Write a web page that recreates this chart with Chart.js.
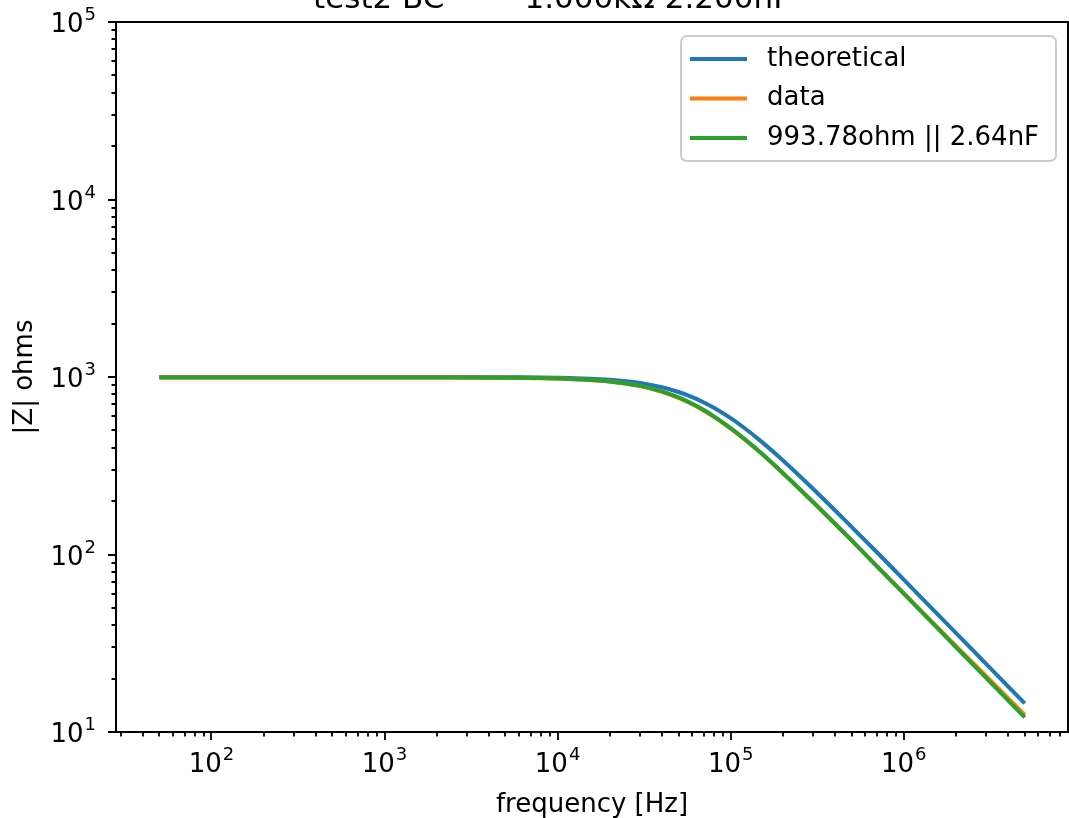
<!DOCTYPE html>
<html>
<head>
<meta charset="utf-8">
<script src="https://cdn.jsdelivr.net/npm/chart.js@4.4.0/dist/chart.umd.min.js"></script>
<style>
  html, body { margin: 0; padding: 0; background: #fff; }
  canvas { display: block; }
</style>
</head>
<body>
<canvas id="bodeChart" width="1069" height="818"></canvas>
<script>
// frequency sweep [Hz] and |Z| [ohm]
const freqs = [50, 100, 200, 500, 1e3, 2e3, 5e3, 1e4, 2e4, 3e4, 4e4, 5e4, 6e4, 7e4, 8e4,
               1e5, 1.2e5, 1.5e5, 2e5, 3e5, 5e5, 7e5, 1e6, 2e6, 3e6, 5e6];
const theoretical = [1000, 1000, 1000, 1000, 1000, 1000, 998, 991, 964, 924, 875, 823, 770, 719, 671,
                     586, 516, 434, 340, 234, 143, 103, 72.1, 36.2, 24.1, 14.5];
const measured = [995, 995, 994, 994, 994, 993, 989, 980, 942, 888, 826, 762, 702, 646, 596,
                  512, 446, 372, 288, 197, 120, 86, 60.5, 30.6, 20.6, 12.5];
const fitted = [994, 994, 994, 994, 994, 993, 990, 981, 944, 891, 830, 767, 707, 651, 600,
                515, 448, 373, 288, 197, 120, 85.8, 60.2, 30.1, 20.1, 12.1];

const seriesLabels = ['theoretical', 'data', '993.78ohm || 2.64nF'];
const seriesColors = ['#1f77b4', '#ff7f0e', '#2ca02c'];
const titleLeft = 'test2 BC';
const titleRight = '1.000k\u03A9 2.200nF';

const FONT = 'DejaVu Sans';
Chart.defaults.font.family = FONT;
Chart.defaults.font.size = 26;
Chart.defaults.color = '#000';

function logTicks(scale) {
  const out = [];
  const lo = Math.floor(Math.log10(scale.min));
  const hi = Math.ceil(Math.log10(scale.max));
  for (let e = lo; e <= hi; e++) {
    for (let m = 1; m < 10; m++) {
      const v = m * Math.pow(10, e);
      if (v >= scale.min * 0.9999 && v <= scale.max * 1.0001) out.push({ value: v, major: m === 1 });
    }
  }
  scale.ticks = out;
}

// "10" with a raised exponent, like matplotlib's mathtext
function drawPow(ctx, value, x, y, align) {
  const e = String(Math.round(Math.log10(value)));
  ctx.font = '26px ' + FONT;
  const w1 = ctx.measureText('10').width;
  ctx.font = '18px ' + FONT;
  const w2 = ctx.measureText(e).width;
  const total = w1 + 1 + w2;
  const start = align === 'right' ? x - total : x - total / 2;
  ctx.textAlign = 'left';
  ctx.textBaseline = 'alphabetic';
  ctx.font = '26px ' + FONT;
  ctx.fillText('10', start, y);
  ctx.font = '18px ' + FONT;
  ctx.fillText(e, start + w1 + 1, y - 12);
}

// box, ticks, tick labels, title and legend in matplotlib style
const mplDecor = {
  id: 'mplDecor',
  afterDatasetsDraw(chart) {
    const { ctx, chartArea: a } = chart;
    const xs = chart.scales.x, ys = chart.scales.y;
    ctx.save();
    ctx.strokeStyle = '#000';
    ctx.lineWidth = 2;
    ctx.strokeRect(a.left, a.top, a.right - a.left, a.bottom - a.top);

    ctx.beginPath();
    xs.ticks.forEach(t => {
      const px = Math.round(xs.getPixelForValue(t.value));
      const len = t.major ? 8 : 4.5;
      ctx.moveTo(px, a.bottom);
      ctx.lineTo(px, a.bottom + len);
    });
    ys.ticks.forEach(t => {
      const py = Math.round(ys.getPixelForValue(t.value));
      const len = t.major ? 8 : 4.5;
      ctx.moveTo(a.left, py);
      ctx.lineTo(a.left - len, py);
    });
    ctx.lineWidth = 1.8;
    ctx.stroke();

    ctx.fillStyle = '#000';
    xs.ticks.filter(t => t.major).forEach(t => {
      drawPow(ctx, t.value, xs.getPixelForValue(t.value), a.bottom + 40, 'center');
    });
    ys.ticks.filter(t => t.major).forEach(t => {
      drawPow(ctx, t.value, a.left - 20, ys.getPixelForValue(t.value) + 10, 'right');
    });

    // title, cut at the top edge as in the original
    ctx.font = '31px ' + FONT;
    ctx.textBaseline = 'alphabetic';
    const cx = (a.left + a.right) / 2;
    ctx.textAlign = 'left';
    ctx.fillText(titleLeft, cx - 279, 8);
    ctx.textAlign = 'right';
    ctx.fillText(titleRight, cx + 199, 8);

    // legend
    const lx = a.right - 387, ly = a.top + 14, lw = 375, lh = 125;
    ctx.beginPath();
    ctx.roundRect(lx, ly, lw, lh, 6);
    ctx.fillStyle = 'rgba(255,255,255,0.8)';
    ctx.fill();
    ctx.strokeStyle = '#cccccc';
    ctx.lineWidth = 2;
    ctx.stroke();
    ctx.font = '26px ' + FONT;
    ctx.textAlign = 'left';
    ctx.textBaseline = 'middle';
    chart.data.datasets.forEach((ds, i) => {
      const y = ly + 23 + i * 39.5;
      ctx.beginPath();
      ctx.moveTo(lx + 9, y);
      ctx.lineTo(lx + 66, y);
      ctx.strokeStyle = ds.borderColor;
      ctx.lineWidth = 4;
      ctx.stroke();
      ctx.fillStyle = '#000';
      ctx.fillText(ds.label, lx + 86, y);
    });
    ctx.restore();
  }
};

const ctx = document.getElementById('bodeChart').getContext('2d');
new Chart(ctx, {
  type: 'line',
  data: {
    labels: freqs,
    datasets: [
      { label: seriesLabels[0], data: freqs.map((f, i) => ({ x: f, y: theoretical[i] })), borderColor: seriesColors[0], order: 2 },
      { label: seriesLabels[1], data: freqs.map((f, i) => ({ x: f, y: measured[i] })), borderColor: seriesColors[1], order: 1 },
      { label: seriesLabels[2], data: freqs.map((f, i) => ({ x: f, y: fitted[i] })), borderColor: seriesColors[2], order: 0 }
    ]
  },
  options: {
    responsive: false,
    animation: false,
    devicePixelRatio: 1,
    layout: { padding: { top: 22, right: 1, left: 0, bottom: 0 } },
    elements: {
      line: { borderWidth: 4, fill: false, cubicInterpolationMode: 'monotone' },
      point: { radius: 0, hoverRadius: 0 }
    },
    plugins: {
      legend: { display: false },
      tooltip: { enabled: false }
    },
    scales: {
      x: {
        type: 'logarithmic',
        min: 28.1,
        max: 8.89e6,
        afterBuildTicks: logTicks,
        afterFit: s => { s.height = 86; s.paddingLeft = 0; s.paddingRight = 0; },
        grid: { display: false, drawTicks: false },
        border: { display: false },
        ticks: { display: false, autoSkip: false },
        title: { display: true, text: 'frequency [Hz]', padding: { top: 0, bottom: -3 } }
      },
      y: {
        type: 'logarithmic',
        min: 10,
        max: 1e5,
        afterBuildTicks: logTicks,
        afterFit: s => { s.width = 116; s.paddingTop = 0; s.paddingBottom = 0; },
        grid: { display: false, drawTicks: false },
        border: { display: false },
        ticks: { display: false, autoSkip: false },
        title: { display: true, text: '|Z| ohms', padding: { top: 10, bottom: 0 } }
      }
    }
  },
  plugins: [mplDecor]
});
</script>
</body>
</html>
